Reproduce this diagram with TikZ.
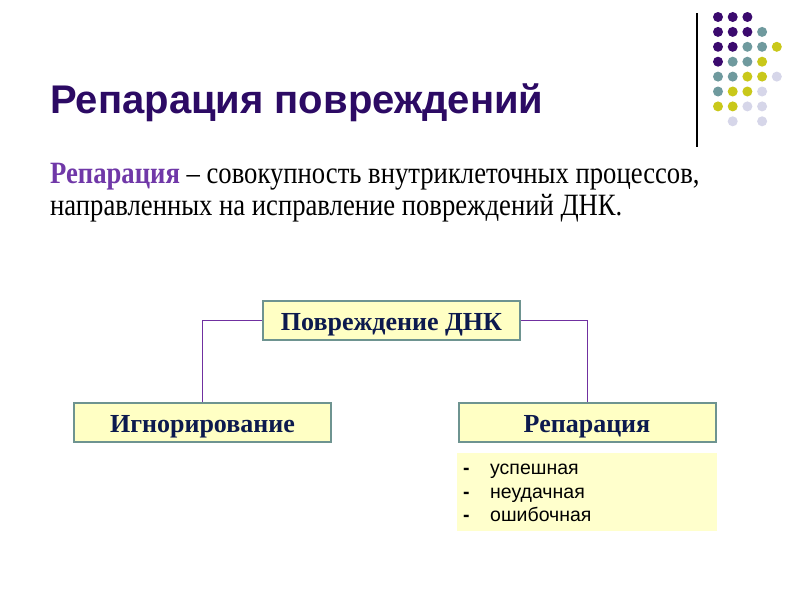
\documentclass[tikz,border=0pt]{standalone}
\usepackage{fontspec}
\setmainfont{Liberation Serif}
\newfontfamily\sansf{Liberation Sans}
\newfontfamily\condserif[FakeStretch=0.86]{Liberation Serif}
\definecolor{dpurple}{HTML}{3B0A6E}
\definecolor{dteal}{HTML}{6F9A9E}
\definecolor{dyellow}{HTML}{C9C81A}
\definecolor{dlav}{HTML}{D6D6E9}
\definecolor{titlec}{HTML}{2C0A64}
\definecolor{repc}{HTML}{7038A8}
\definecolor{boxfill}{HTML}{FFFFC4}
\definecolor{boxline}{HTML}{6E9490}
\definecolor{boxtext}{HTML}{0C1A4E}
\definecolor{listfill}{HTML}{FFFFCC}
\definecolor{linkc}{HTML}{7030A0}
\tikzset{
  dot/.style={circle,inner sep=0pt,minimum size=10pt},
  mainbox/.style={draw=boxline,line width=2pt,fill=boxfill,minimum width=257pt,minimum height=39pt,
    font=\fontsize{26}{30}\selectfont\bfseries,text=boxtext,inner sep=0pt,text height=19pt,text depth=0pt},
  link/.style={draw=linkc,line width=0.9pt},
  item/.style={anchor=base west,font=\sansf\fontsize{19.5}{22}\selectfont,inner sep=0pt}
}
\begin{document}
\begin{tikzpicture}[x=1pt,y=-1pt]
\useasboundingbox (0,0) rectangle (800,600);
\fill[white] (0,0) rectangle (800,600);
% decorative line and dots
\draw[line width=1.2pt] (697,13) coordinate (vtop) -- (697,147) coordinate (vbot);
\foreach \c/\r/\col in {0/0/dpurple,1/0/dpurple,2/0/dpurple,
  0/1/dpurple,1/1/dpurple,2/1/dpurple,3/1/dteal,
  0/2/dpurple,1/2/dpurple,2/2/dteal,3/2/dteal,4/2/dyellow,
  0/3/dpurple,1/3/dteal,2/3/dteal,3/3/dyellow,
  0/4/dteal,1/4/dteal,2/4/dyellow,3/4/dyellow,4/4/dlav,
  0/5/dteal,1/5/dyellow,2/5/dyellow,3/5/dlav,
  0/6/dyellow,1/6/dyellow,2/6/dlav,3/6/dlav,
  1/7/dlav,3/7/dlav}
  \node[dot,fill=\col] (d\c\r) at (718+14.7*\c,17+14.9*\r) {};
% title
\node[anchor=base west,inner sep=0pt,text=titlec,font=\sansf\bfseries\fontsize{40}{44}\selectfont] (title) at (50,113) {Репарация повреждений};
% definition
\node[anchor=base west,inner sep=0pt,font=\condserif\fontsize{31}{35}\selectfont] (def1) at (50,183)
  {\textcolor{repc}{\bfseries Репарация} – совокупность внутриклеточных процессов,};
\node[anchor=base west,inner sep=0pt,font=\condserif\fontsize{31}{35}\selectfont] (def2) at (50,215)
  {направленных на исправление повреждений ДНК.};
% boxes
\node[mainbox] (dna) at (391.5,320.5) {Повреждение ДНК};
\node[mainbox] (ign) at (202.5,422.5) {Игнорирование};
\node[mainbox] (rep) at (587,422.5) {Репарация};
\draw[link] (dna.west) -| (ign.north);
\draw[link] (dna.east) -| (rep.north);
% list
\node[fill=listfill,minimum width=260pt,minimum height=78pt,inner sep=0pt] (list) at (587,492) {};
\node[item] (b1) at (463,474) {\bfseries -};
\node[item] (i1) at (490,474) {успешная};
\node[item] (b2) at (463,498) {\bfseries -};
\node[item] (i2) at (490,498) {неудачная};
\node[item] (b3) at (463,521) {\bfseries -};
\node[item] (i3) at (490,521) {ошибочная};
\end{tikzpicture}
\end{document}
